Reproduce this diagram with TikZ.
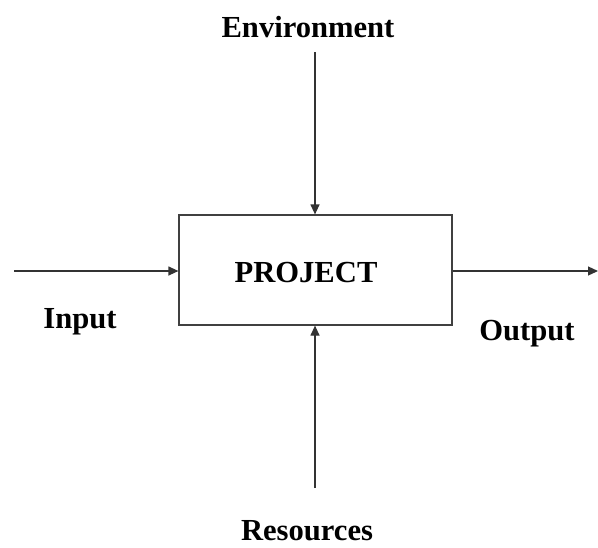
\documentclass[tikz,border=0pt]{standalone}
\usepackage{fontspec}
\setmainfont{Liberation Serif}
\usetikzlibrary{arrows.meta,positioning}

\begin{document}
\begin{tikzpicture}[
    x=0.5pt, y=-0.5pt,
    box/.style={rectangle, draw=black!75, line width=0.6pt, minimum width=136.5pt, minimum height=55pt},
    label/.style={font=\fontsize{15.3}{18}\selectfont\bfseries, inner sep=0pt, anchor=base},
    arrow/.style={-{Triangle[length=5pt, width=4.5pt]}, draw=black!80, line width=0.6pt}
]
\useasboundingbox (0,0) rectangle (598,547);

% Project box
\node[box] (project) at (315.5,270) {};
\node[label] (projtext) at (306,282) {PROJECT};

% Labels
\node[label] (env) at (308,37) {Environment};
\node[label] (input) at (80,328) {Input};
\node[label] (output) at (527,340) {Output};
\node[label] (res) at (307,540) {Resources};

% Free ends
\coordinate (envstart) at (315,52);
\coordinate (instart) at (14,271);
\coordinate (outend) at (598,271);
\coordinate (resstart) at (315,488);

% Arrows
\draw[arrow] (envstart) -- (envstart |- project.north);
\draw[arrow] (instart) -- (instart -| project.west);
\draw[arrow] (outend -| project.east) -- (outend);
\draw[arrow] (resstart) -- (resstart |- project.south);

\end{tikzpicture}
\end{document}
